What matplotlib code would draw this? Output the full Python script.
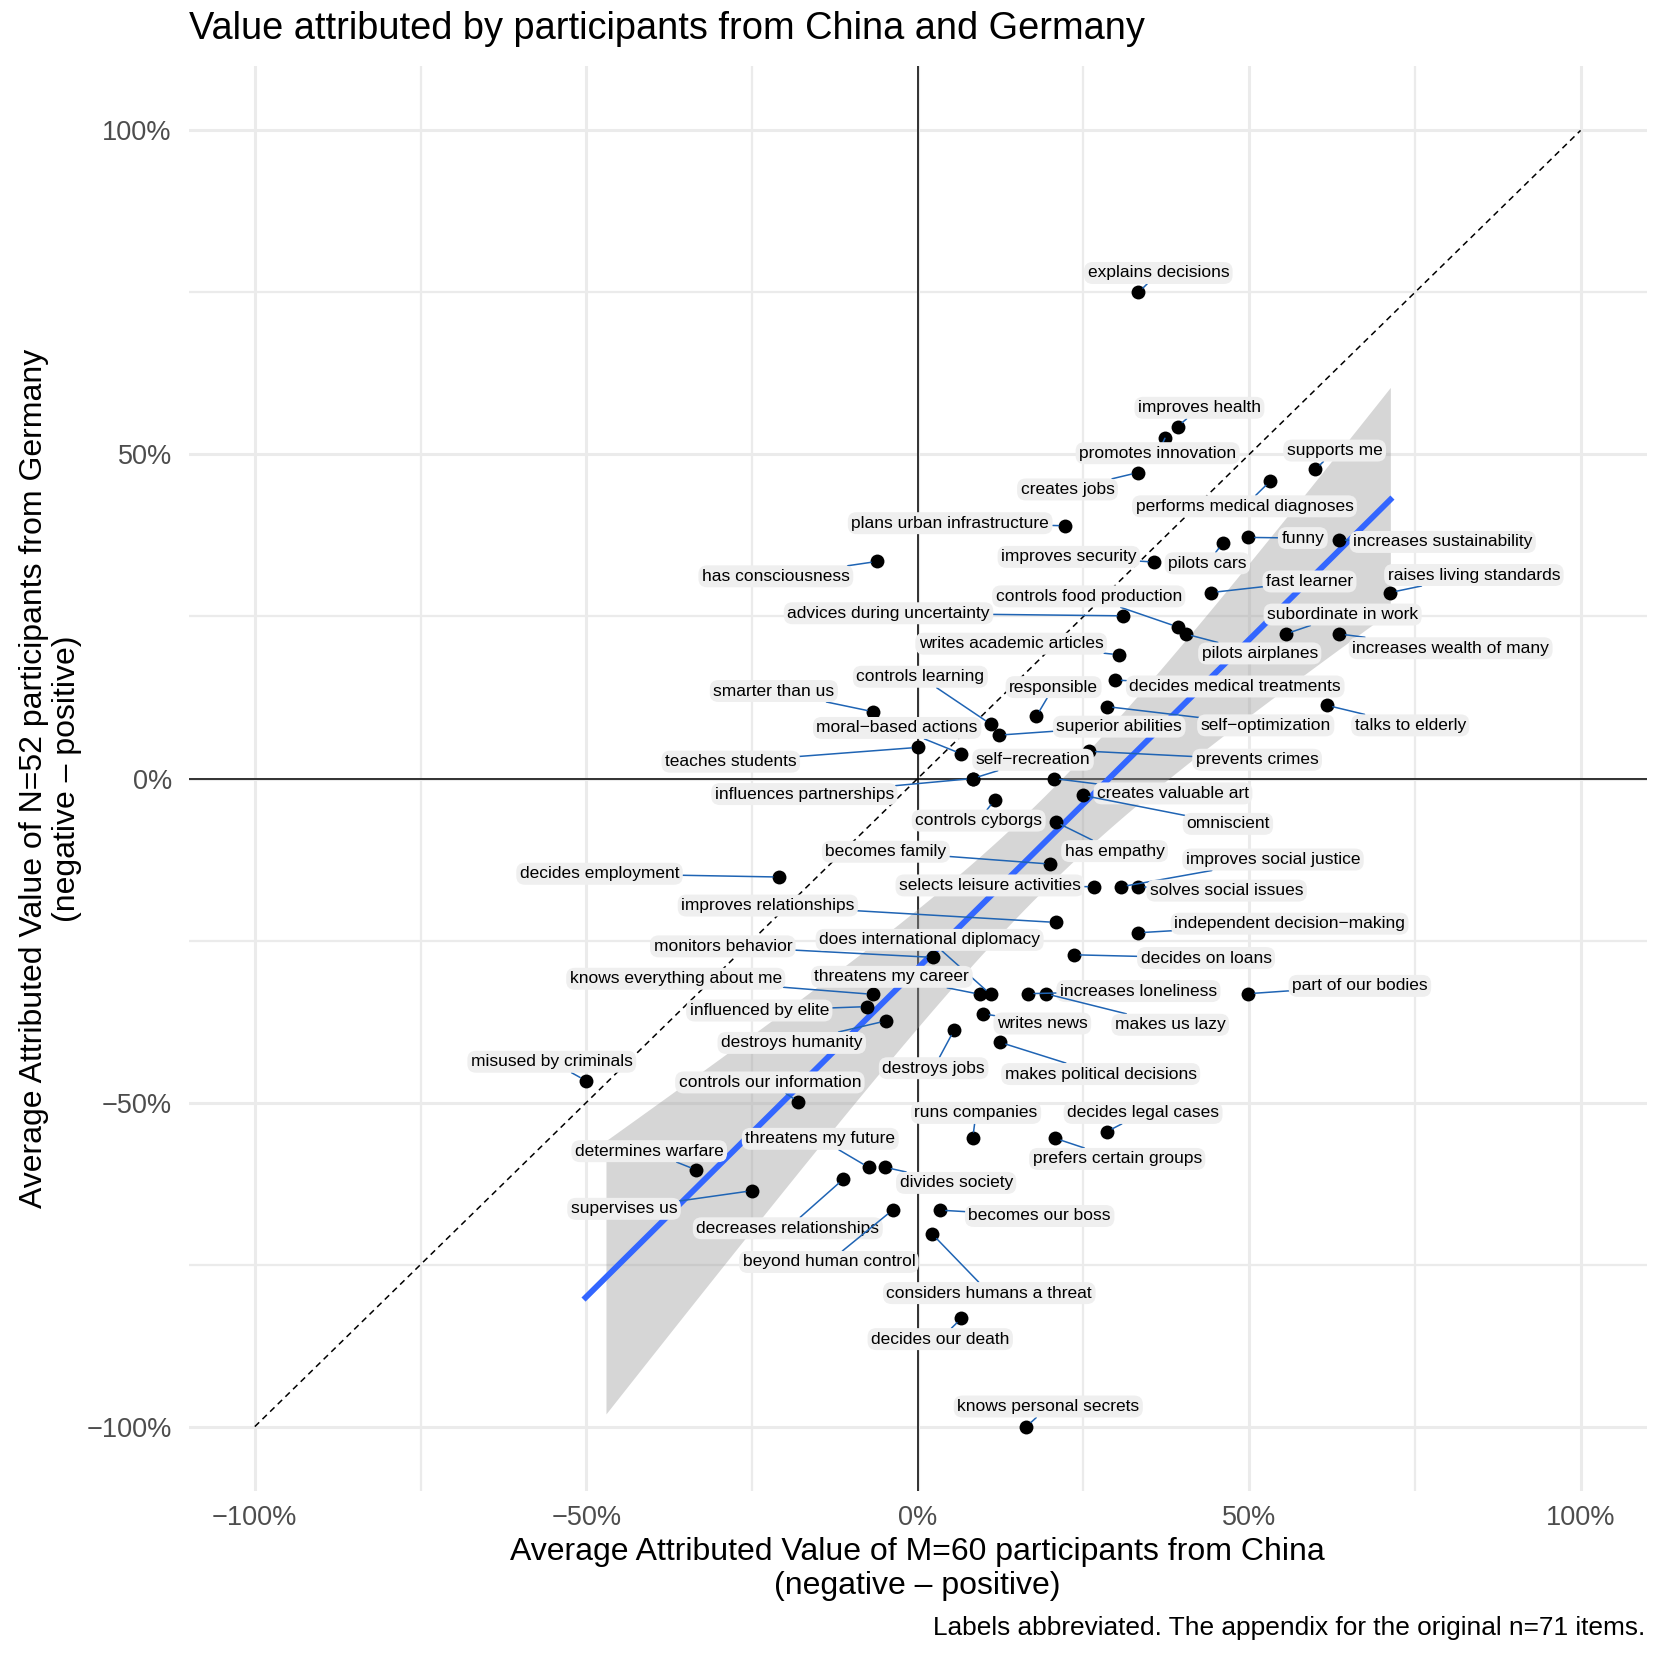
import numpy as np
import matplotlib
matplotlib.use('Agg')
import matplotlib.pyplot as plt
from matplotlib.ticker import FixedLocator

plt.rcParams['font.family'] = ['Liberation Sans', 'DejaVu Sans']

# item labels (abbreviated)
items = [
    'explains decisions', 'improves health', 'promotes innovation', 'creates jobs',
    'supports me', 'performs medical diagnoses', 'plans urban infrastructure', 'funny',
    'pilots cars', 'increases sustainability', 'improves security', 'has consciousness',
    'fast learner', 'raises living standards', 'advices during uncertainty',
    'controls food production', 'pilots airplanes', 'subordinate in work',
    'increases wealth of many', 'writes academic articles', 'decides medical treatments',
    'smarter than us', 'self\u2212optimization', 'talks to elderly', 'responsible',
    'controls learning', 'superior abilities', 'teaches students', 'moral\u2212based actions',
    'prevents crimes', 'self\u2212recreation', 'influences partnerships', 'creates valuable art',
    'omniscient', 'controls cyborgs', 'has empathy', 'becomes family', 'decides employment',
    'selects leisure activities', 'improves social justice', 'solves social issues',
    'improves relationships', 'independent decision\u2212making', 'monitors behavior',
    'does international diplomacy', 'threatens my career', 'decides on loans',
    'knows everything about me', 'increases loneliness', 'makes us lazy',
    'part of our bodies', 'influenced by elite', 'writes news', 'destroys humanity',
    'destroys jobs', 'makes political decisions', 'misused by criminals',
    'controls our information', 'decides legal cases', 'runs companies',
    'prefers certain groups', 'determines warfare', 'threatens my future',
    'divides society', 'decreases relationships', 'supervises us', 'becomes our boss',
    'beyond human control', 'considers humans a threat', 'decides our death',
    'knows personal secrets',
]

# average attributed value, China (x) and Germany (y), in %
china = [
    33.3, 39.2, 37.3, 33.2, 60.0, 53.2, 22.2, 49.9, 46.0, 63.6,
    35.7, -6.1, 44.3, 71.3, 31.0, 39.2, 40.4, 55.5, 63.6, 30.3,
    29.8, -6.7, 28.5, 61.7, 17.9, 11.0, 12.3, 0.0, 6.6, 25.9,
    8.3, 8.3, 20.5, 24.9, 11.6, 20.8, 20.0, -20.9, 26.6, 30.7,
    33.3, 20.8, 33.3, 2.3, 11.0, 9.4, 23.6, -6.8, 16.6, 19.3,
    49.9, -7.7, 9.9, -4.8, 5.5, 12.4, -50.1, -18.0, 28.5, 8.3,
    20.7, -33.4, -7.4, -4.9, -11.2, -25.0, 3.3, -3.8, 2.2, 6.6,
    16.4,
]
germany = [
    75.0, 54.3, 52.5, 47.2, 47.7, 45.9, 39.0, 37.2, 36.3, 36.8,
    33.4, 33.5, 28.7, 28.7, 25.1, 23.4, 22.3, 22.3, 22.3, 19.1,
    15.2, 10.3, 11.1, 11.3, 9.6, 8.4, 6.7, 4.8, 3.8, 4.2,
    0.0, 0.0, 0.0, -2.6, -3.3, -6.7, -13.2, -15.2, -16.7, -16.7,
    -16.7, -22.2, -23.8, -27.6, -33.3, -33.3, -27.2, -33.3, -33.2, -33.2,
    -33.2, -35.2, -36.3, -37.4, -38.8, -40.7, -46.6, -49.9, -54.5, -55.5,
    -55.5, -60.4, -60.0, -60.0, -61.8, -63.6, -66.6, -66.6, -70.3, -83.3,
    -100.0,
]

# label placement (offset from point, data units) - repel layout
label_dx = [
    3.0, 3.3, -1.1, -10.6, 2.9, -3.9, -17.3, 8.2, -2.3, 15.6,
    -12.9, -15.3, 14.8, 12.6, -35.4, -13.4, 11.2, 8.6, 16.8, -16.2,
    18.1, -15.0, 24.0, 12.6, 2.6, -10.6, 18.1, -28.2, -9.7, 25.3,
    9.1, -25.4, 18.0, 21.9, -2.4, 8.9, -24.8, -27.1, -15.7, 22.9,
    13.3, -43.4, 22.8, -31.7, -9.2, -13.3, 19.9, -29.7, 16.7, 18.8,
    16.8, -16.2, 8.9, -14.2, -3.1, 15.2, -5.1, -4.3, 5.5, 0.5,
    9.4, -7.1, -7.3, 10.7, -8.4, -19.3, 15.1, -9.6, 8.6, -3.2,
    3.3,
]
label_dy = [
    3.0, 2.9, -2.3, -2.6, 2.9, -3.9, 0.4, -0.1, -3.1, -0.3,
    0.8, -2.3, 1.7, 2.7, 0.4, 4.7, -3.0, 3.0, -2.2, 1.7,
    -1.0, 3.2, -2.9, -3.1, 4.5, 7.3, 1.3, -2.2, 4.0, -1.3,
    2.9, -2.4, -2.3, -4.4, -3.2, -4.5, 1.9, 0.5, 0.2, 4.2,
    -0.6, 2.6, 1.4, 1.7, 8.4, 2.7, -0.5, 2.4, 0.4, -4.8,
    1.2, -0.6, -1.5, -3.4, -5.9, -4.9, 2.9, 3.0, 2.9, 3.9,
    -3.2, 2.9, 4.4, -2.4, -7.6, -2.8, -0.9, -8.0, -9.1, -3.2,
    3.1,
]

x = np.array(china)
y = np.array(germany)

# linear fit with 95% confidence band (like geom_smooth(method = "lm"))
n = len(x)
slope, intercept = np.polyfit(x, y, 1)
resid = y - (slope * x + intercept)
s = np.sqrt(np.sum(resid ** 2) / (n - 2))
sxx = np.sum((x - x.mean()) ** 2)
t_crit = 1.995  # t(0.975, df=69)
xs = np.linspace(x.min(), x.max(), 80)
fit = slope * xs + intercept
se = s * np.sqrt(1 / n + (xs - x.mean()) ** 2 / sxx)
lo = fit - t_crit * se
hi = fit + t_crit * se
keep = (lo >= -100) & (hi <= 100)

fig = plt.figure(figsize=(16.61, 16.61), dpi=100)
ax = fig.add_axes([0.1135, 0.1021, 0.878, 0.8584])

ax.set_xlim(-110, 110)
ax.set_ylim(-110, 110)
for sp in ax.spines.values():
    sp.set_visible(False)

ticks = [-100, -50, 0, 50, 100]
tick_labels = ['\u2212100%', '\u221250%', '0%', '50%', '100%']
ax.set_xticks(ticks)
ax.set_xticklabels(tick_labels)
ax.set_yticks(ticks)
ax.set_yticklabels(tick_labels)
ax.xaxis.set_minor_locator(FixedLocator([-75, -25, 25, 75]))
ax.yaxis.set_minor_locator(FixedLocator([-75, -25, 25, 75]))
ax.tick_params(which='both', length=0, labelsize=19.5, labelcolor='#4d4d4d')
ax.tick_params(axis='x', pad=10)
ax.tick_params(axis='y', pad=12)
ax.grid(which='major', color='#ebebeb', lw=2.2)
ax.grid(which='minor', color='#ebebeb', lw=1.6)
ax.set_axisbelow(True)

ax.axhline(0, color='black', lw=1.1, zorder=1)
ax.axvline(0, color='black', lw=1.1, zorder=1)
ax.plot([-100, 100], [-100, 100], color='black', lw=1.1, ls=(0, (4, 3)), zorder=1)

ax.fill_between(xs[keep], lo[keep], hi[keep], color='#999999', alpha=0.4, lw=0, zorder=2)
ax.plot(xs, fit, color='#3366ff', lw=4.2, zorder=2.5)

ax.scatter(x, y, s=100, color='black', zorder=3, linewidths=0)

for name, px, py, dx, dy in zip(items, china, germany, label_dx, label_dy):
    ax.annotate(name, xy=(px, py), xytext=(px + dx, py + dy), textcoords='data',
                ha='center', va='center', fontsize=12.5, color='black', zorder=4,
                bbox=dict(boxstyle='round,pad=0.2,rounding_size=0.5', fc='#efefef', ec='none'),
                arrowprops=dict(arrowstyle='-', color='#1f64b4', lw=1.1,
                                shrinkA=0, shrinkB=4.5))

fig.text(0.1135, 0.9828, 'Value attributed by participants from China and Germany',
         fontsize=27.4, ha='left', va='center')
fig.text(0.5525, 0.0554, 'Average Attributed Value of M=60 participants from China\n(negative \u2013 positive)',
         fontsize=23, ha='center', va='center', linespacing=1.15)
fig.text(0.0303, 0.5313, 'Average Attributed Value of N=52 participants from Germany\n(negative \u2013 positive)',
         fontsize=23, ha='center', va='center', rotation=90, linespacing=1.15)
fig.text(0.9904, 0.0199, 'Labels abbreviated. The appendix for the original n=71 items.',
         fontsize=18.9, ha='right', va='center')

fig.savefig('out.png', dpi=100)
